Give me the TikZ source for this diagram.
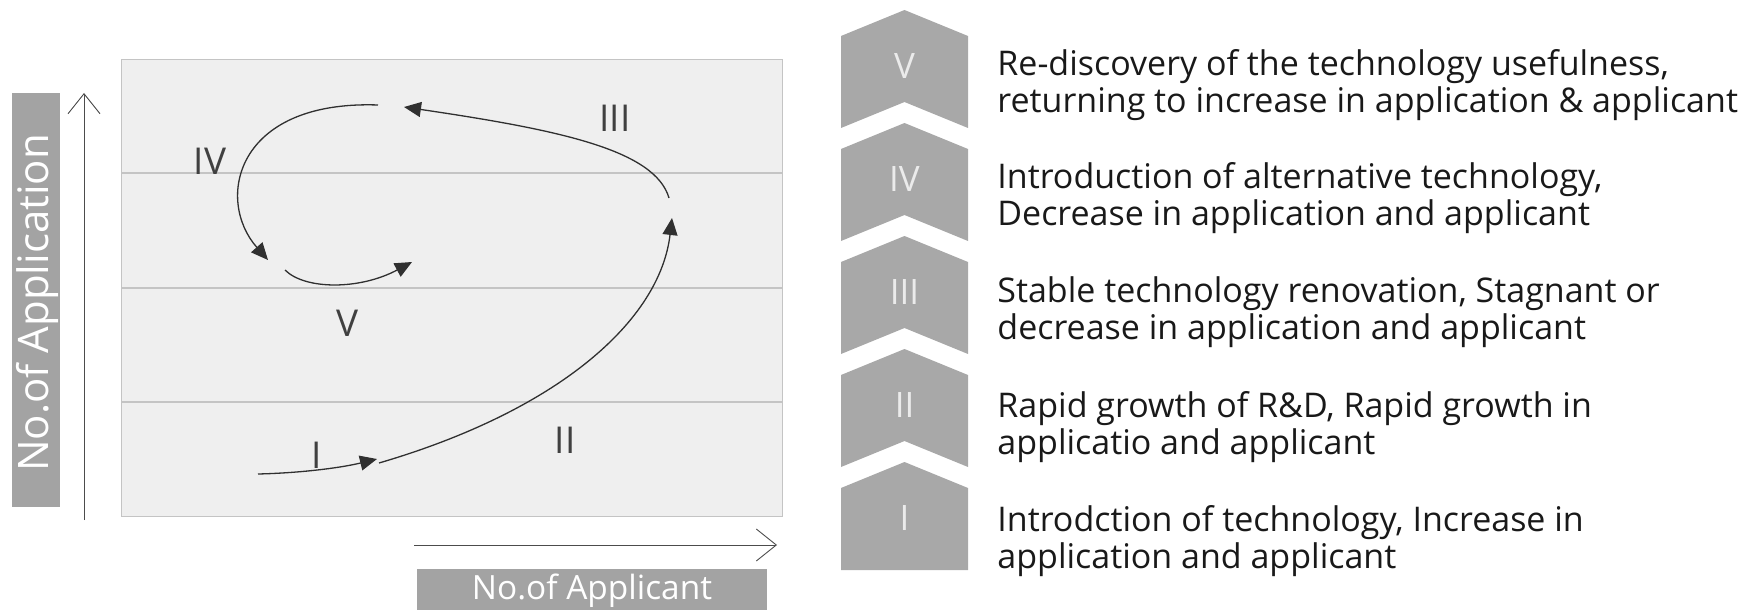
\documentclass[tikz,border=0pt]{standalone}
\usepackage{fontspec}
\setmainfont{Open Sans}
\usetikzlibrary{arrows.meta}
\definecolor{chev}{HTML}{A8A8A8}
\definecolor{lab}{HTML}{A3A3A3}
\definecolor{boxfill}{HTML}{EFEFEF}
\definecolor{boxline}{HTML}{C4C4C4}
\definecolor{curve}{HTML}{303030}
\tikzset{
  px/.style={x=0.5pt,y=-0.5pt},
  flow/.style={draw=curve,line width=0.65pt,-{Triangle[length=8.5pt,width=7.5pt]}},
  axisline/.style={draw=black!70,line width=0.45pt,-{Straight Barb[length=10pt,width=16pt,line width=0.45pt]}},
  labelbox/.style={fill=lab,draw=none,inner sep=0pt,text=white},
  roman/.style={text=black!75,font=\fontsize{18.5}{18.5}\selectfont,inner sep=0pt},
  chevnum/.style={text=white!92!black,font=\fontsize{17.5}{17.5}\selectfont,inner sep=0pt},
  desc/.style={anchor=west,align=left,inner sep=0pt,text=black!90,font=\fontsize{17}{18.5}\selectfont},
}
\begin{document}
\begin{tikzpicture}[px]
\useasboundingbox (0,0) rectangle (1760,610);
% main chart box
\node[draw=boxline,fill=boxfill,line width=0.6pt,minimum width=330.5pt,minimum height=228.5pt,anchor=north west,inner sep=0pt] (chart) at (121,59) {};
\foreach \yy in {173,288,402} \draw[boxline,line width=0.6pt] (121,\yy) -- (782,\yy);
% y axis label and arrow
\node[labelbox,minimum width=24pt,minimum height=207pt,anchor=north west] (ylab) at (12,93) {};
\node[text=white,rotate=90,font=\fontsize{21}{21}\selectfont,inner sep=0pt] (ylabt) at (37,303) {No.of Application};
\coordinate (yb) at (84,520);
\coordinate (yt) at (84,93);
\draw[axisline] (yb) -- (yt);
% x axis
\coordinate (xl) at (414,545);
\coordinate (xr) at (777,545);
\draw[axisline] (xl) -- (xr);
\node[labelbox,minimum width=175pt,minimum height=20.5pt,anchor=north west] (xlab) at (417,569) {};
\node[text=white,font=\fontsize{16.7}{16.7}\selectfont,inner sep=0pt] (xlabt) at (592,591) {No.of Applicant};
% curves
\coordinate (s1) at (258,474);
\coordinate (e1) at (377,459);
\coordinate (s2) at (379,463);
\coordinate (e2) at (672,218);
\coordinate (s3) at (669,198);
\coordinate (e3) at (404,107);
\coordinate (s4) at (378,105);
\coordinate (e4) at (268,260);
\coordinate (s5) at (285,270);
\coordinate (e5) at (412,262);
\draw[flow] (s1) .. controls (300,473) and (340,468) .. (e1);
\draw[flow] (s2) .. controls (560,410) and (660,320) .. (e2);
\draw[flow] (s3) .. controls (655,150) and (560,130) .. (e3);
\draw[flow] (s4) .. controls (235,100) and (215,200) .. (e4);
\draw[flow] (s5) .. controls (305,290) and (360,290) .. (e5);
\node[roman] (rI) at (317,455) {I};
\node[roman] (rII) at (565,440) {II};
\node[roman] (rIII) at (615,118) {III};
\node[roman] (rIV) at (210,161) {IV};
\node[roman] (rV) at (348,323) {V};
% chevrons
\foreach \s in {36,149,262,375} {
  \fill[chev] (841,\s) -- (904.5,\s-26) -- (968,\s) -- (968,\s+92) -- (904.5,\s+66) -- (841,\s+92) -- cycle;
}
\fill[chev] (841,488) -- (904.5,462) -- (968,488) -- (968,570) -- (841,570) -- cycle;
\node[chevnum] (cV) at (904.5,66) {V};
\node[chevnum] (cIV) at (904.5,179) {IV};
\node[chevnum] (cIII) at (904.5,292) {III};
\node[chevnum] (cII) at (904.5,405) {II};
\node[chevnum] (cI) at (904.5,518) {I};
% descriptions
\node[desc] (dV) at (997,85) {Re-discovery of the technology usefulness,\\returning to increase in application \& applicant};
\node[desc] (dIV) at (997,198) {Introduction of alternative technology,\\Decrease in application and applicant};
\node[desc] (dIII) at (997,312) {Stable technology renovation, Stagnant or\\decrease in application and applicant};
\node[desc] (dII) at (997,427) {Rapid growth of R\&D, Rapid growth in\\applicatio and applicant};
\node[desc] (dI) at (997,541) {Introdction of technology, Increase in\\application and applicant};
\end{tikzpicture}
\end{document}
